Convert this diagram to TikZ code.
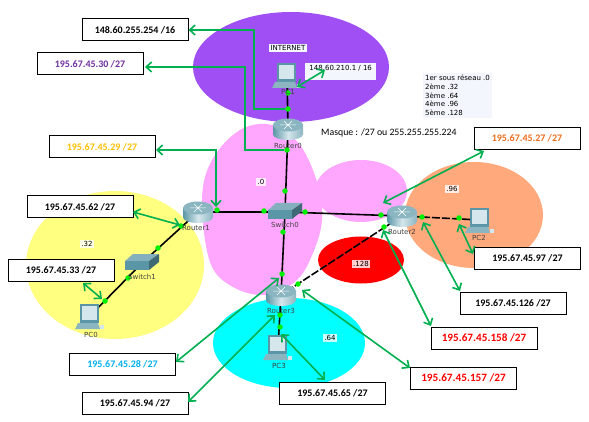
\documentclass[tikz,border=0pt]{standalone}
\usepackage{fontspec}
\setmainfont{Carlito}
\newfontfamily\ptfont{DejaVu Sans}
\usepackage{xcolor}
\usetikzlibrary{arrows.meta}
\definecolor{purpleNet}{HTML}{A04FF5}
\definecolor{pinkNet}{HTML}{FFA6FF}
\definecolor{yellowNet}{HTML}{FFFF80}
\definecolor{orangeNet}{HTML}{FFA97C}
\definecolor{cyanNet}{HTML}{00FFFF}
\definecolor{greenLine}{HTML}{00B050}
\definecolor{dotGreen}{HTML}{00F000}
\definecolor{devDark}{HTML}{5A96A6}
\definecolor{devLight}{HTML}{D5E6EC}
\definecolor{noteBg}{HTML}{F3F6FC}
\definecolor{ipPurple}{HTML}{7030A0}

\begin{document}
\begin{tikzpicture}[
  x=1pt,y=-1pt,
  addr/.style={draw,line width=1pt,fill=white,minimum width=106pt,minimum height=22pt,
               inner sep=0pt,font=\bfseries\fontsize{10}{11}\selectfont},
  addrbig/.style={addr,text=red,font=\bfseries\fontsize{11.2}{12}\selectfont},
  devlabel/.style={inner sep=0pt,text=black!75,font=\ptfont\fontsize{7}{8}\selectfont},
  subnet/.style={fill=white,fill opacity=0.8,text opacity=1,inner sep=1.2pt,
                 font=\ptfont\fontsize{7}{8}\selectfont},
  dot/.style={circle,fill=dotGreen,inner sep=0pt,minimum size=5.5pt},
  link/.style={line width=1.6pt,black},
  dlink/.style={link,dash pattern=on 8pt off 2pt},
  garr/.style={line width=1.6pt,greenLine,
               {Straight Barb[length=5.5pt,width=10pt]}-{Straight Barb[length=5.5pt,width=10pt]}},
  garrone/.style={line width=1.6pt,greenLine,-{Straight Barb[length=5.5pt,width=10pt]}},
  routericon/.pic={
    \shade[left color=devDark,right color=devDark!70,middle color=devLight]
      (-15,-4) -- (-15,5) .. controls (-15,13) and (15,13) .. (15,5) -- (15,-4) -- cycle;
    \fill[devDark!70!white] (0,-4) ellipse [x radius=15,y radius=6.5];
    \draw[white,line width=0.5pt] (-8,-4) -- (8,-4) (-4,-8) -- (4,0) (4,-8) -- (-4,0);
  },
  switchicon/.pic={
    \fill[devDark!75!white] (-17,-2) -- (-9,-9) -- (17,-9) -- (7,-2) -- cycle;
    \fill[devDark] (-17,-2) -- (7,-2) -- (7,7) -- (-17,7) -- cycle;
    \fill[devDark!70!black] (7,-2) -- (17,-9) -- (17,-1) -- (7,7) -- cycle;
  },
  pcicon/.pic={
    \fill[devDark] (-10,-12) -- (9,-12) -- (9,7) -- (-10,7) -- cycle;
    \fill[devLight] (-8,-10) -- (7,-10) -- (7,4) -- (-8,4) -- cycle;
    \fill[devDark!70!white] (-12,7) -- (8,7) -- (10,13) -- (-15,13) -- cycle;
    \fill[devLight] (10,9) -- (14,9) -- (14,13) -- (10,13) -- cycle;
  }
]
\useasboundingbox (0,0) rectangle (589,422);
% Subnets
\fill[purpleNet] (291,67) ellipse [x radius=98,y radius=55];
\fill[pinkNet] plot[smooth cycle,tension=0.6] coordinates {(202,200) (212,160) (240,130)
  (272,125) (300,145) (318,185) (322,220) (313,253) (297,280) (267,295) (233,287) (210,262)};
\fill[pinkNet] (361,191) ellipse [x radius=46,y radius=31];
\fill[yellowNet] (115,265) ellipse [x radius=89,y radius=74];
\fill[cyanNet] (289,343) ellipse [x radius=76,y radius=45];
\fill[orangeNet] (474,215) ellipse [x radius=69,y radius=53];
\fill[red] (361,260) ellipse [x radius=43,y radius=23.5];
% Devices
\coordinate (pc1) at (287,75);
\coordinate (router0) at (288,129);
\coordinate (switch0) at (285,212);
\coordinate (router1) at (198,212);
\coordinate (router2) at (402,216);
\coordinate (router3) at (281,295);
\coordinate (switch1) at (142,263);
\coordinate (pc0) at (90,316);
\coordinate (pc3) at (278,347);
\coordinate (pc2) at (480,220);
% Links
\draw[link] (pc1) -- (router0);
\draw[link] (router0) -- (switch0);
\draw[link] (router1) -- (switch0);
\draw[link] (switch0) -- (router2);
\draw[link] (switch0) -- (router3);
\draw[link] (router3) -- (pc3);
\draw[link] (router1) -- (switch1);
\draw[link] (switch1) -- (pc0);
\draw[dlink] (router2) -- (pc2);
\draw[dlink] (router2) -- (router3);
% Ports
\node[dot] (dotpc1) at (288,93) {};
\node[dot] (dotrt0a) at (288,109) {};
\node[dot] (dotrt0b) at (287,150) {};
\node[dot] (dotsw0a) at (285,191) {};
\node[dot] (dotrt1a) at (217,210) {};
\node[dot] (dotsw0b) at (264,211) {};
\node[dot] (dotsw0c) at (305,212) {};
\node[dot] (dotrt2a) at (381,215) {};
\node[dot] (dotrt2b) at (384,227) {};
\node[dot] (dotrt2c) at (422,217) {};
\node[dot] (dotpc2) at (459,218) {};
\node[dot] (dotrt1b) at (181,226) {};
\node[dot] (dotsw1a) at (158,248) {};
\node[dot] (dotsw1b) at (128,278) {};
\node[dot] (dotpc0) at (105,301) {};
\node[dot] (dotsw0d) at (283,232) {};
\node[dot] (dotrt3a) at (282,274) {};
\node[dot] (dotrt3b) at (298,284) {};
\node[dot] (dotrt3c) at (280,315) {};
\node[dot] (dotpc3) at (280,327) {};
% Icons
\pic at (pc1) {pcicon};
\pic at (router0) {routericon};
\pic at (switch0) {switchicon};
\pic at (router1) {routericon};
\pic at (router2) {routericon};
\pic at (router3) {routericon};
\pic at (switch1) {switchicon};
\pic at (pc0) {pcicon};
\pic at (pc3) {pcicon};
\pic at (pc2) {pcicon};
\node[devlabel] (lblpc1) at (288,92) {PC1};
\node[devlabel] (lblrt0) at (288,146) {Router0};
\node[devlabel] (lblsw0) at (285,225) {Switch0};
\node[devlabel] (lblrt1) at (196,228) {Router1};
\node[devlabel] (lblrt2) at (402,232) {Router2};
\node[devlabel] (lblrt3) at (281,311) {Router3};
\node[devlabel] (lblsw1) at (142,277) {Switch1};
\node[devlabel] (lblpc0) at (91,335) {PC0};
\node[devlabel] (lblpc3) at (279,366) {PC3};
\node[devlabel] (lblpc2) at (479,238) {PC2};
% Subnet texts
\node[subnet] (net0) at (261,182) {.0};
\node[subnet] (net32) at (87,244) {.32};
\node[subnet] (net64) at (330,338) {.64};
\node[subnet] (net96) at (452,189) {.96};
\node[subnet] (net128) at (361,264) {.128};
\node[subnet,fill=noteBg,fill opacity=1] (inet) at (288,48) {INTERNET};
\node[subnet,fill=noteBg,fill opacity=1,anchor=north west,minimum width=71pt,minimum height=17pt,
      text depth=7pt,inner sep=1pt] (addrpc1) at (305,63) {148.60.210.1 / 16};
\node[subnet,fill=noteBg,fill opacity=1,align=left,anchor=north west,inner sep=2pt,
      font=\ptfont\fontsize{7}{8.7}\selectfont] (notes) at (423,73)
  {1er sous réseau .0\\2ème .32\\3ème .64\\4ème .96\\5ème .128};
\node[inner sep=0pt,anchor=west,font=\fontsize{9.8}{11}\selectfont] (masque) at (321,133)
  {Masque : /27 ou 255.255.255.224};
% Address boxes
\node[addr] (ipA) at (135,30) {148.60.255.254 /16};
\node[addr,text=ipPurple] (ipB) at (90,64) {195.67.45.30 /27};
\node[addr,text={rgb,255:red,255;green,192;blue,0}] (ipC) at (102,147) {195.67.45.29 /27};
\node[addr] (ipD) at (80,207) {195.67.45.62 /27};
\node[addr] (ipE) at (61,270) {195.67.45.33 /27};
\node[addr,text={rgb,255:red,0;green,176;blue,240}] (ipF) at (122.5,364.5) {195.67.45.28 /27};
\node[addr] (ipG) at (135,403) {195.67.45.94 /27};
\node[addr] (ipH) at (332.5,393) {195.67.45.65 /27};
\node[addrbig] (ipI) at (463.5,378) {195.67.45.157 /27};
\node[addrbig] (ipJ) at (484,338) {195.67.45.158 /27};
\node[addr] (ipK) at (513,303.5) {195.67.45.126 /27};
\node[addr] (ipL) at (527.5,258.5) {195.67.45.97 /27};
\node[addr,text={rgb,255:red,237;green,110;blue,30}] (ipM) at (527,138.5) {195.67.45.27 /27};
% Arrows
\coordinate (bendA) at (254,30);
\coordinate (bendB) at (245,67);
\coordinate (tipB) at (145,67);
\coordinate (bendC) at (216,150);
\coordinate (tipC) at (156,150);
\coordinate (tipCb) at (216,207);
\draw[garrone] (dotrt0a) -| (bendA) -- (ipA.east);
\draw[garrone] (dotrt0b) -| (bendB) -- (tipB);
\draw[garr] (tipC) -- (bendC) -- (tipCb);
\coordinate (tipD) at (133,212);
\coordinate (tipDb) at (180,225);
\draw[garr] (tipD) -- (tipDb);
\coordinate (tipE) at (83,283);
\coordinate (tipEb) at (102,299);
\draw[garr] (tipE) -- (tipEb);
\coordinate (tipF) at (176,362);
\coordinate (tipFb) at (279,278);
\draw[garr] (tipF) -- (tipFb);
\coordinate (tipG) at (188,402);
\coordinate (tipGb) at (275,315);
\draw[garr] (tipG) -- (tipGb);
\coordinate (tipH) at (325,380);
\coordinate (tipHb) at (281,334);
\draw[garr] (tipH) -- (tipHb);
\coordinate (tipI) at (410,368);
\coordinate (tipIb) at (302,290);
\draw[garr] (tipI) -- (tipIb);
\coordinate (tipJ) at (431,326);
\coordinate (tipJb) at (383,230);
\draw[garr] (tipJ) -- (tipJb);
\coordinate (tipK) at (460,291);
\coordinate (tipKb) at (423,222);
\draw[garr] (tipK) -- (tipKb);
\coordinate (tipL) at (473,254);
\coordinate (tipLb) at (459,224);
\draw[garr] (tipL) -- (tipLb);
\coordinate (tipM) at (484,151);
\coordinate (tipMb) at (383,203);
\draw[garr] (tipM) -- (tipMb);
\coordinate (tipN) at (325,70);
\coordinate (tipNb) at (297,87);
\draw[garr] (tipN) -- (tipNb);
\end{tikzpicture}
\end{document}
